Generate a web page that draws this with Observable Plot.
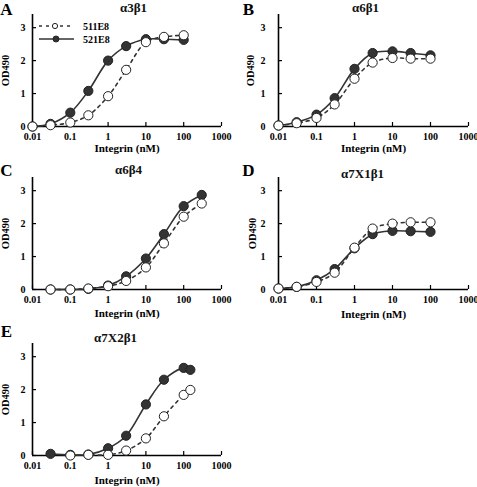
<!DOCTYPE html>
<html><head><meta charset="utf-8">
<script src="https://cdn.jsdelivr.net/npm/d3@7"></script>
<script src="https://cdn.jsdelivr.net/npm/@observablehq/plot@0.6"></script>
<style>
body{margin:0;background:#fff;}
#root{position:relative;width:477px;height:487px;overflow:hidden;font-family:"Liberation Serif","Times New Roman",serif;}
#root > svg{position:absolute;overflow:visible;}
</style></head><body><div id="root"></div>
<script>
// ---- data ----
const seriesNames = ["511E8", "521E8"];
const xTicks = [0.01, 0.1, 1, 10, 100, 1000];
const yTicks = [0, 1, 2, 3];

const concA = [0.01, 0.03, 0.1, 0.3, 1, 3, 10, 30, 100];
const a511 = [0, 0.04, 0.12, 0.34, 0.92, 1.72, 2.56, 2.72, 2.77];
const a521 = [0, 0.08, 0.42, 1.08, 2.0, 2.44, 2.65, 2.65, 2.63];

const concB = [0.01, 0.03, 0.1, 0.3, 1, 3, 10, 30, 100];
const b511 = [0.03, 0.1, 0.26, 0.67, 1.45, 1.94, 2.08, 2.06, 2.06];
const b521 = [0.03, 0.13, 0.36, 0.86, 1.75, 2.23, 2.28, 2.23, 2.16];

const concC = [0.03, 0.1, 0.3, 1, 3, 10, 30, 100, 300];
const c511 = [0, 0, 0.03, 0.1, 0.26, 0.67, 1.4, 2.21, 2.61];
const c521 = [0, 0, 0.02, 0.12, 0.4, 0.94, 1.68, 2.53, 2.87];

const concD = [0.01, 0.03, 0.1, 0.3, 1, 3, 10, 30, 100];
const d511 = [0.03, 0.08, 0.23, 0.51, 1.27, 1.85, 2.0, 2.04, 2.04];
const d521 = [0.03, 0.08, 0.28, 0.62, 1.25, 1.68, 1.78, 1.77, 1.75];

const concE = [0.03, 0.1, 0.3, 1, 3, 10, 30, 100, 150];
const e511 = [null, 0, 0.02, 0.02, 0.15, 0.52, 1.19, 1.84, 1.99];
const e521 = [0.05, 0.02, 0.03, 0.22, 0.6, 1.55, 2.3, 2.66, 2.6];

const titles = ["α3β1", "α6β1", "α6β4", "α7X1β1", "α7X2β1"];
const letters = ["A", "B", "C", "D", "E"];
const concs = [concA, concB, concC, concD, concE];
const vals511 = [a511, b511, c511, d511, e511];
const vals521 = [a521, b521, c521, d521, e521];

// ---- layout (panel-local pixel positions) ----
const layout = [
  {left: 0,   top: 0,   w: 240, ml: 32, mr: 19, tx: 133, ty: 7,  lx: 6, ly: 9,  ylx: 5,  xly: 148},
  {left: 240, top: 0,   w: 237, ml: 38, mr: 9,  tx: 125, ty: 7,  lx: 8, ly: 9,  ylx: 10, xly: 148},
  {left: 0,   top: 163, w: 240, ml: 32, mr: 19, tx: 128, ty: 6,  lx: 6, ly: 7,  ylx: 5,  xly: 150},
  {left: 240, top: 163, w: 237, ml: 38, mr: 9,  tx: 122, ty: 10, lx: 8, ly: 7,  ylx: 12, xly: 151},
  {left: 0,   top: 329, w: 240, ml: 32, mr: 19, tx: 115, ty: 8,  lx: 6, ly: 2,  ylx: 5,  xly: 151}
];
const H = 160, MT = 14, MB = 34;
const ink = "#333";
const font = '"Liberation Serif","Times New Roman",serif';

const root = document.getElementById("root");

layout.forEach((L, i) => {
  const rows511 = concs[i].map((c, j) => ({c, v: vals511[i][j]})).filter(d => d.v != null);
  const rows521 = concs[i].map((c, j) => ({c, v: vals521[i][j]})).filter(d => d.v != null);
  const frameW = L.w - L.ml - L.mr;
  const frameH = H - MT - MB;
  const plot = Plot.plot({
    width: L.w, height: H,
    marginLeft: L.ml, marginRight: L.mr, marginTop: MT, marginBottom: MB,
    style: {fontFamily: font, overflow: "visible", background: "transparent"},
    x: {type: "log", domain: [0.01, 1000]},
    y: {domain: [0, 3.4]},
    marks: [
      Plot.ruleX([0.01], {stroke: "#000", strokeWidth: 1.6}),
      Plot.ruleY([0], {stroke: "#000", strokeWidth: 1.6}),
      Plot.tickX(xTicks, {x: d => d, insetTop: frameH - 4, stroke: "#000", strokeWidth: 1.2}),
      Plot.tickY(yTicks, {y: d => d, insetRight: frameW - 4, stroke: "#000", strokeWidth: 1.2}),
      Plot.axisX({ticks: xTicks, tickFormat: d => String(d), tickSize: 0, tickPadding: 6,
        fontSize: 10, fontWeight: "bold", label: null, fill: "#000"}),
      Plot.axisY({ticks: yTicks, tickFormat: d => String(d), tickSize: 0, tickPadding: L.ml - 25,
        fontSize: 10, fontWeight: "bold", label: null, fill: "#000"}),
      Plot.line(rows511, {x: "c", y: "v", curve: "catmull-rom", stroke: ink, strokeWidth: 1.6, strokeDasharray: "3,4"}),
      Plot.line(rows521, {x: "c", y: "v", curve: "catmull-rom", stroke: ink, strokeWidth: 1.6}),
      Plot.dot(rows521, {x: "c", y: "v", r: 4.6, fill: ink, stroke: "#222", strokeWidth: 1}),
      Plot.dot(rows511, {x: "c", y: "v", r: 4.6, fill: "white", stroke: "#222", strokeWidth: 1}),
      Plot.text([titles[i]], {frameAnchor: "top-left", dx: L.tx - L.ml, dy: L.ty - MT,
        text: d => d, fontSize: 13, fontWeight: "bold", textAnchor: "middle", lineAnchor: "middle", fill: "#111"}),
      Plot.text([letters[i]], {frameAnchor: "top-left", dx: L.lx - L.ml, dy: L.ly - MT,
        text: d => d, fontSize: 17, fontWeight: "bold", textAnchor: "middle", lineAnchor: "middle", fill: "#000"}),
      Plot.text(["OD490"], {frameAnchor: "left", dx: L.ylx - L.ml, rotate: -90,
        text: d => d, fontSize: 10.5, fontWeight: "bold", textAnchor: "middle", lineAnchor: "middle", fill: "#000"}),
      Plot.text(["Integrin (nM)"], {frameAnchor: "top-left", dx: frameW / 2, dy: L.xly - MT,
        text: d => d, fontSize: 11, fontWeight: "bold", textAnchor: "middle", lineAnchor: "middle", fill: "#000"})
    ]
  });
  plot.style.left = L.left + "px";
  plot.style.top = L.top + "px";
  root.appendChild(plot);

  if (i === 0) {
    // legend for panel A
    const g = d3.select(plot).append("g").attr("font-family", font).attr("font-size", 10)
      .attr("font-weight", "bold").attr("text-anchor", "start");
    const rows = [
      {name: seriesNames[0], y: 26, dash: "3,4", fill: "white", cx: 55, r: 2.6},
      {name: seriesNames[1], y: 39, dash: null, fill: ink, cx: 56, r: 3}
    ];
    rows.forEach(r => {
      g.append("line").attr("x1", 39).attr("x2", 74).attr("y1", r.y).attr("y2", r.y)
        .attr("stroke", ink).attr("stroke-width", 1.6).attr("stroke-dasharray", r.dash);
      g.append("circle").attr("cx", r.cx).attr("cy", r.y).attr("r", r.r)
        .attr("fill", r.fill).attr("stroke", "#222").attr("stroke-width", 1);
      g.append("text").attr("x", 83).attr("y", r.y).attr("dy", "0.35em").attr("fill", "#000").text(r.name);
    });
  }
});
</script>
</body></html>
